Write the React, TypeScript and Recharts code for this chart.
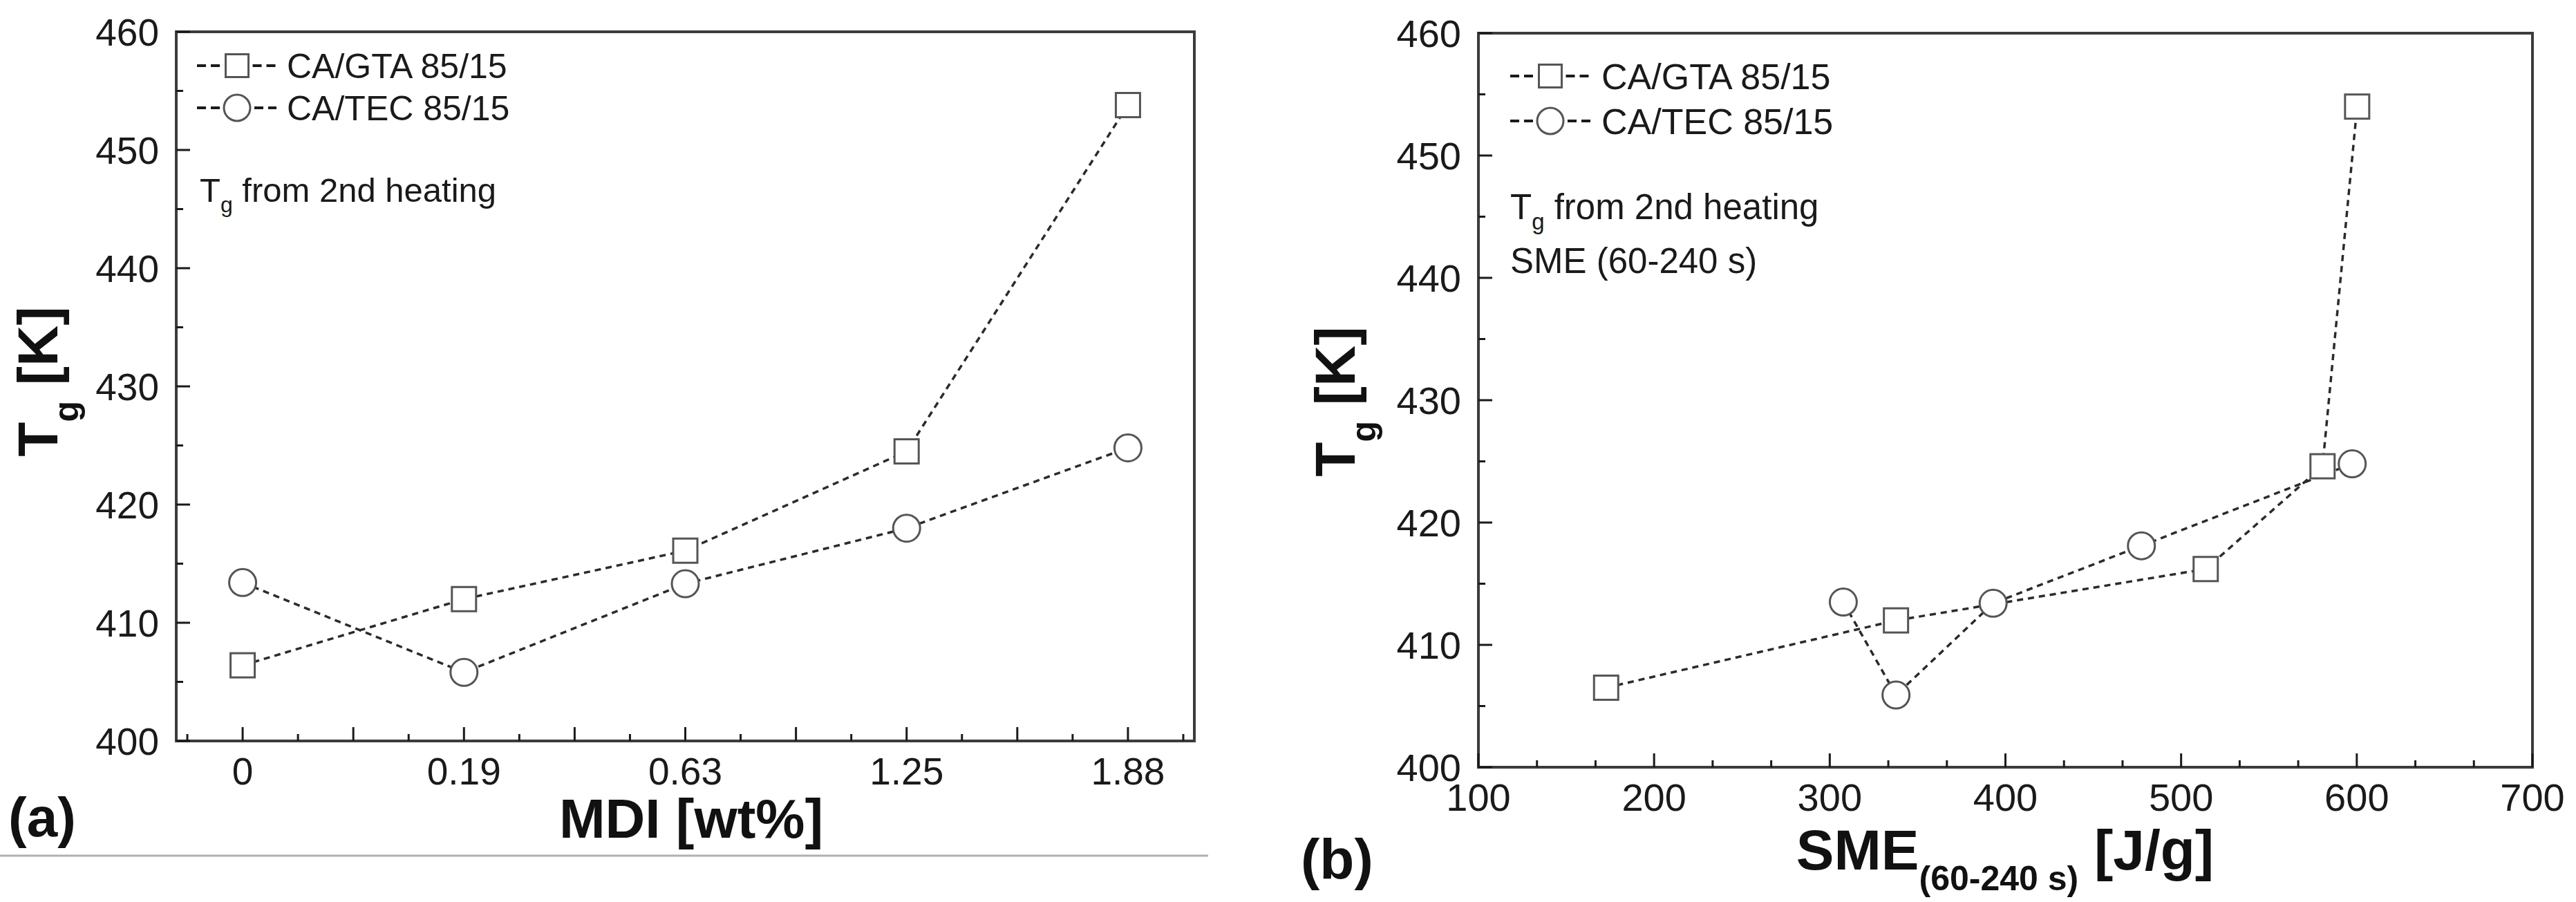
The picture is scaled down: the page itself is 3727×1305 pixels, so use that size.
import React from 'react';
import { LineChart, Line, XAxis, YAxis, ReferenceArea, Legend } from 'recharts';

// ---------- data ----------
const mdiLabels = ['0', '0.19', '0.63', '1.25', '1.88'];
const mdiIndex = [0, 1, 2, 3, 4];
const tgGtaA = [406.4, 412.0, 416.1, 424.5, 453.8];
const tgTecA = [413.4, 405.8, 413.3, 418.0, 424.8];

const smeGta = [172.7, 337.7, 514.0, 580.5, 600.2];
const tgGtaB = [406.5, 412.0, 416.2, 424.6, 454.0];
const smeTec = [307.7, 337.7, 393.0, 477.4, 597.4];
const tgTecB = [413.5, 405.9, 413.4, 418.1, 424.8];

const tgTicks = [400, 410, 420, 430, 440, 450, 460];
const smeTicks = [100, 200, 300, 400, 500, 600, 700];
const seriesNames = ['CA/GTA 85/15', 'CA/TEC 85/15'];

// ---------- derived tables ----------
const dataA = mdiIndex.map((i, k) => ({ i, gta: tgGtaA[k], tec: tgTecA[k] }));
const dataGtaB = smeGta.map((x, k) => ({ x, tg: tgGtaB[k] }));
const dataTecB = smeTec.map((x, k) => ({ x, tg: tgTecB[k] }));

const yTicksAll = tgTicks.flatMap((t, k) => (k < tgTicks.length - 1 ? [t, t + 5] : [t]));
const xTicksA = mdiIndex
  .flatMap((i) => [i - 0.25, i, i + 0.25, i + 0.5])
  .filter((v) => v < 4.3);
const xTicksB = smeTicks.flatMap((t, k) =>
  k < smeTicks.length - 1 ? [t, t + 100 / 3, t + 200 / 3] : [t]
);

const FONT = "'Liberation Sans', Arial, Helvetica, sans-serif";
const INK = '#1a1a1a';
const FRAME = '#3c3c3c';
const LINE = '#2b2b2b';
const MARK = '#555555';

// ---------- ticks ----------
function XTickA(props: any) {
  const { x, y, payload } = props;
  const v = payload.value;
  const idx = Math.round(v);
  const isInt = Math.abs(v - idx) < 1e-6;
  const isMajor = Math.abs(v * 2 - Math.round(v * 2)) < 1e-6;
  return (
    <g>
      <line x1={x} x2={x} y1={y} y2={y - (isMajor ? 20 : 10)} stroke={INK} strokeWidth={3} />
      {isInt && (
        <text x={x} y={y + 63} textAnchor="middle" fontFamily={FONT} fontSize={55} fill={INK}>
          {mdiLabels[idx]}
        </text>
      )}
    </g>
  );
}

function XTickB(props: any) {
  const { x, y, payload } = props;
  const v = payload.value;
  const isMajor = Math.abs(v / 100 - Math.round(v / 100)) < 1e-6;
  return (
    <g>
      <line x1={x} x2={x} y1={y} y2={y - (isMajor ? 20 : 10)} stroke={INK} strokeWidth={3} />
      {isMajor && (
        <text x={x} y={y + 63} textAnchor="middle" fontFamily={FONT} fontSize={56} fill={INK}>
          {Math.round(v)}
        </text>
      )}
    </g>
  );
}

function YTick(props: any) {
  const { x, y, payload, fs } = props;
  const v = payload.value;
  const isMajor = v % 10 === 0;
  return (
    <g>
      <line x1={x} x2={x + (isMajor ? 20 : 10)} y1={y} y2={y} stroke={INK} strokeWidth={3} />
      {isMajor && (
        <text x={x - 25} y={y} dy="0.36em" textAnchor="end" fontFamily={FONT} fontSize={fs || 55} fill={INK}>
          {v}
        </text>
      )}
    </g>
  );
}

// ---------- titles ----------
function YTitle(props: any) {
  const { lx, ly } = props;
  return (
    <text
      transform={`rotate(-90 ${lx} ${ly})`}
      x={lx}
      y={ly}
      textAnchor="middle"
      fontFamily={FONT}
      fontWeight="bold"
      fontSize={82}
      fill="#111"
    >
      <tspan>T</tspan>
      <tspan fontSize={50} dy={30}>g</tspan>
      <tspan dy={-30}> [K]</tspan>
    </text>
  );
}

function XTitleA() {
  return (
    <text x={1000} y={1212} textAnchor="middle" fontFamily={FONT} fontWeight="bold" fontSize={80} fill="#111">
      MDI [wt%]
    </text>
  );
}

function XTitleB() {
  return (
    <text x={1121} y={1258} textAnchor="middle" fontFamily={FONT} fontWeight="bold" fontSize={82} fill="#111">
      <tspan>SME</tspan>
      <tspan fontSize={50} dy={30}>(60-240 s)</tspan>
      <tspan dy={-30}> [J/g]</tspan>
    </text>
  );
}

// ---------- markers ----------
function SquareDot(props: any) {
  const { cx, cy } = props;
  if (cx == null || cy == null) return null;
  const s = 35;
  return <rect x={cx - s / 2} y={cy - s / 2} width={s} height={s} fill="#fff" stroke={MARK} strokeWidth={3} />;
}

function CircleDot(props: any) {
  const { cx, cy } = props;
  if (cx == null || cy == null) return null;
  return <circle cx={cx} cy={cy} r={19.5} fill="#fff" stroke={MARK} strokeWidth={3} />;
}

// ---------- legend ----------
function makeLegend(cfg: { x0: number; mx: number; tx: number; y0: number; dy: number; fs: number; w: number; h: number }) {
  return function LegendContent(props: any) {
    const items = props.payload || [];
    return (
      <svg
        width={cfg.w}
        height={cfg.h}
        style={{ position: 'absolute', left: 0, top: 0, overflow: 'visible', pointerEvents: 'none' }}
      >
        {items.map((e: any, i: number) => {
          const y = cfg.y0 + i * cfg.dy;
          const half = e.type === 'circle' ? 19 : 16.5;
          return (
            <g key={i}>
              <line x1={cfg.x0} x2={cfg.mx - half - 5} y1={y} y2={y} stroke={INK} strokeWidth={4} strokeDasharray="13 7" />
              <line x1={cfg.mx + half + 6} x2={cfg.tx - 15} y1={y} y2={y} stroke={INK} strokeWidth={4} strokeDasharray="13 7" />
              {e.type === 'circle' ? (
                <circle cx={cfg.mx} cy={y} r={19} fill="#fff" stroke={MARK} strokeWidth={3} />
              ) : (
                <rect x={cfg.mx - 16.5} y={y - 16.5} width={33} height={33} fill="#fff" stroke={MARK} strokeWidth={3} />
              )}
              <text x={cfg.tx} y={y} dy="0.36em" fontFamily={FONT} fontSize={cfg.fs} fill={INK}>
                {e.value}
              </text>
            </g>
          );
        })}
      </svg>
    );
  };
}

const LegendA = makeLegend({ x0: 285, mx: 343, tx: 415, y0: 95, dy: 61, fs: 50, w: 1760, h: 1305 });
const LegendB = makeLegend({ x0: 405, mx: 463, tx: 537, y0: 110, dy: 65, fs: 52, w: 1947, h: 1305 });

const lineStyle = {
  type: 'linear' as const,
  stroke: LINE,
  strokeWidth: 3.5,
  strokeDasharray: '9 7',
  isAnimationActive: false,
  activeDot: false as const,
};

export default function App() {
  return (
    <div style={{ position: 'absolute', left: 0, top: 0, width: 3727, height: 1305, background: '#fff', fontFamily: FONT }}>
      {/* Panel (a) */}
      <div style={{ position: 'absolute', left: 0, top: 0 }}>
        <LineChart width={1760} height={1305} data={dataA} margin={{ top: 46, right: 32, bottom: 0, left: 0 }}>
          <XAxis
            dataKey="i"
            type="number"
            domain={[-0.3, 4.3]}
            allowDataOverflow
            ticks={xTicksA}
            interval={0}
            tick={<XTickA />}
            tickLine={false}
            axisLine={false}
            tickSize={0}
            tickMargin={0}
            height={233}
            label={<XTitleA />}
          />
          <YAxis
            type="number"
            domain={[400, 460]}
            allowDataOverflow
            ticks={yTicksAll}
            interval={0}
            tick={<YTick fs={55} />}
            tickLine={false}
            axisLine={false}
            tickSize={0}
            tickMargin={0}
            width={255}
            label={<YTitle lx={83} ly={552} />}
          />
          <ReferenceArea x1={-0.3} x2={4.3} y1={400} y2={460} fill="none" stroke={FRAME} strokeWidth={4} ifOverflow="visible" />
          <Line dataKey="gta" name={seriesNames[0]} legendType="square" dot={<SquareDot />} {...lineStyle} />
          <Line dataKey="tec" name={seriesNames[1]} legendType="circle" dot={<CircleDot />} {...lineStyle} />
          <Legend
            layout="horizontal"
            verticalAlign="middle"
            align="center"
            content={<LegendA />}
            wrapperStyle={{ left: 0, top: 0, width: 1760, height: 1305, pointerEvents: 'none' }}
          />
        </LineChart>
      </div>

      {/* Panel (b) */}
      <div style={{ position: 'absolute', left: 1780, top: 0 }}>
        <LineChart width={1947} height={1305} margin={{ top: 48, right: 63, bottom: 0, left: 0 }}>
          <XAxis
            dataKey="x"
            type="number"
            domain={[100, 700]}
            allowDataOverflow
            ticks={xTicksB}
            interval={0}
            tick={<XTickB />}
            tickLine={false}
            axisLine={false}
            tickSize={0}
            tickMargin={0}
            height={195}
            label={<XTitleB />}
          />
          <YAxis
            type="number"
            domain={[400, 460]}
            allowDataOverflow
            ticks={yTicksAll}
            interval={0}
            tick={<YTick fs={56} />}
            tickLine={false}
            axisLine={false}
            tickSize={0}
            tickMargin={0}
            width={359}
            label={<YTitle lx={180} ly={581} />}
          />
          <ReferenceArea x1={100} x2={700} y1={400} y2={460} fill="none" stroke={FRAME} strokeWidth={4} ifOverflow="visible" />
          <Line data={dataGtaB} dataKey="tg" name={seriesNames[0]} legendType="square" dot={<SquareDot />} {...lineStyle} />
          <Line data={dataTecB} dataKey="tg" name={seriesNames[1]} legendType="circle" dot={<CircleDot />} {...lineStyle} />
          <Legend
            layout="horizontal"
            verticalAlign="middle"
            align="center"
            content={<LegendB />}
            wrapperStyle={{ left: 0, top: 0, width: 1947, height: 1305, pointerEvents: 'none' }}
          />
        </LineChart>
      </div>

      {/* Overlay: panel letters, annotations, separator */}
      <svg
        width={3727}
        height={1305}
        style={{ position: 'absolute', left: 0, top: 0, pointerEvents: 'none' }}
      >
        <line x1={0} x2={1748} y1={1238} y2={1238} stroke="#b0b0b0" strokeWidth={3} />
        <text x={12} y={1210} fontFamily={FONT} fontWeight="bold" fontSize={80} fill="#111">(a)</text>
        <text x={1882} y={1271} fontFamily={FONT} fontWeight="bold" fontSize={82} fill="#111">(b)</text>

        <text x={289} y={292} fontFamily={FONT} fontSize={49} fill={INK}>
          <tspan>T</tspan>
          <tspan fontSize={32} dy={15}>g</tspan>
          <tspan dy={-15}> from 2nd heating</tspan>
        </text>

        <text x={2185} y={317} fontFamily={FONT} fontSize={51} fill={INK}>
          <tspan>T</tspan>
          <tspan fontSize={33} dy={15}>g</tspan>
          <tspan dy={-15}> from 2nd heating</tspan>
        </text>
        <text x={2185} y={395} fontFamily={FONT} fontSize={51} fill={INK}>
          SME (60-240 s)
        </text>
      </svg>
    </div>
  );
}
